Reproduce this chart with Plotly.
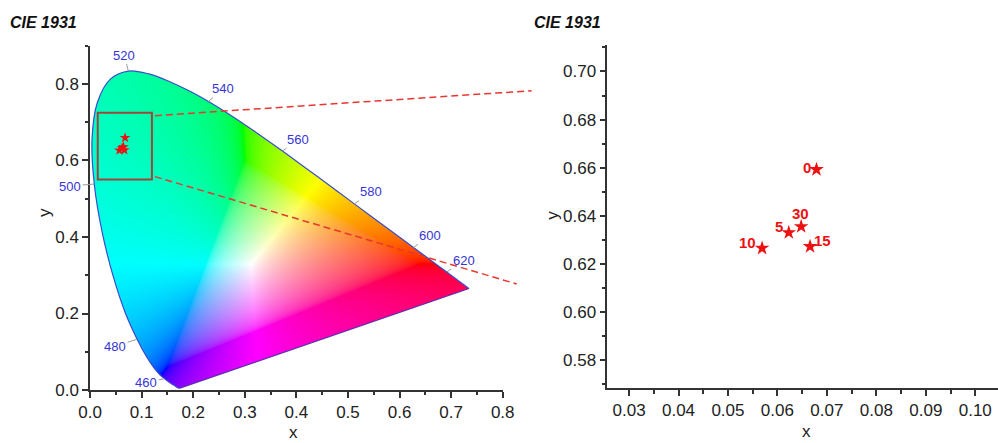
import numpy as np
import zlib, struct, base64
import plotly.graph_objects as go

# ---------------- data ----------------
# CIE 1931 2-degree spectral locus (nm, x, y)
wavelengths = list(range(380, 705, 5))
locus_x = [0.1741, 0.1740, 0.1738, 0.1736, 0.1733, 0.1730, 0.1726, 0.1721, 0.1714, 0.1703,
           0.1689, 0.1669, 0.1644, 0.1611, 0.1566, 0.1510, 0.1440, 0.1355, 0.1241, 0.1096,
           0.0913, 0.0687, 0.0454, 0.0235, 0.0082, 0.0039, 0.0139, 0.0389, 0.0743, 0.1142,
           0.1547, 0.1929, 0.2296, 0.2658, 0.3016, 0.3373, 0.3731, 0.4087, 0.4441, 0.4788,
           0.5125, 0.5448, 0.5752, 0.6029, 0.6270, 0.6482, 0.6658, 0.6801, 0.6915, 0.7006,
           0.7079, 0.7140, 0.7190, 0.7230, 0.7260, 0.7283, 0.7300, 0.7311, 0.7320, 0.7327,
           0.7334, 0.7340, 0.7344, 0.7346, 0.7347]
locus_y = [0.0050, 0.0050, 0.0049, 0.0049, 0.0048, 0.0048, 0.0048, 0.0048, 0.0051, 0.0058,
           0.0069, 0.0086, 0.0109, 0.0138, 0.0177, 0.0227, 0.0297, 0.0399, 0.0578, 0.0868,
           0.1327, 0.2007, 0.2950, 0.4127, 0.5384, 0.6548, 0.7502, 0.8120, 0.8338, 0.8262,
           0.8059, 0.7816, 0.7543, 0.7243, 0.6923, 0.6589, 0.6245, 0.5896, 0.5547, 0.5202,
           0.4866, 0.4544, 0.4242, 0.3965, 0.3725, 0.3514, 0.3340, 0.3197, 0.3083, 0.2993,
           0.2920, 0.2859, 0.2809, 0.2770, 0.2740, 0.2717, 0.2700, 0.2689, 0.2680, 0.2673,
           0.2666, 0.2660, 0.2656, 0.2654, 0.2653]

label_wavelengths = [460, 480, 500, 520, 540, 560, 580, 600, 620]
# label offsets in pixels (dx, dy) from the locus point
label_dx = [-18, -22, -24, -4, 15, 16, 17, 17, 17]
label_dy = [4, 7, 2, -16, -13, -12, -12, -12, -12]

# measured samples
sample_labels = ["0", "5", "10", "15", "30"]
sample_x = [0.0679, 0.0623, 0.0569, 0.0666, 0.0648]
sample_y = [0.6593, 0.6331, 0.6266, 0.6273, 0.6356]
# label offsets (pixels) from each star
sample_lbl_dx = [-9, -10, -15, 12, -1]
sample_lbl_dy = [-2, -6, -6, -6, -13]

# zoom window shown on the left diagram
zoom_x = [0.015, 0.12]
zoom_y = [0.55, 0.725]

# ---------------- colour fill image (rendering only) ----------------
def catmull_rom_closed(xs_, ys_, sub=8):
    p = np.column_stack([xs_, ys_])
    m = len(p)
    out = []
    for i in range(m):
        p0, p1, p2, p3 = p[(i - 1) % m], p[i], p[(i + 1) % m], p[(i + 2) % m]
        for t in np.linspace(0, 1, sub, endpoint=False):
            t2, t3 = t * t, t * t * t
            out.append(0.5 * ((2 * p1) + (-p0 + p2) * t + (2 * p0 - 5 * p1 + 4 * p2 - p3) * t2
                              + (-p0 + 3 * p1 - 3 * p2 + p3) * t3))
    out = np.array(out)
    return out[:, 0], out[:, 1]


res = 0.001
img_x0, img_x1 = 0.0, 0.74
img_y0, img_y1 = 0.0, 0.84
nx = int(round((img_x1 - img_x0) / res))
ny = int(round((img_y1 - img_y0) / res))
gx = img_x0 + (np.arange(nx) + 0.5) * res
gy = img_y1 - (np.arange(ny) + 0.5) * res
X, Y = np.meshgrid(gx, gy)

px, py = catmull_rom_closed(np.array(locus_x), np.array(locus_y))
inside = np.zeros(X.shape, dtype=bool)
n = len(px)
with np.errstate(divide="ignore", invalid="ignore"):
    for j in range(n):
        xi, yi = px[j], py[j]
        xj, yj = px[j - 1], py[j - 1]
        if yi == yj:
            continue
        cond = ((yi > Y) != (yj > Y)) & (X < (xj - xi) * (Y - yi) / (yj - yi) + xi)
        inside ^= cond

yy = np.maximum(Y, 1e-4)
Xc = X / yy
Yc = np.ones_like(X)
Zc = (1 - X - Y) / yy
R = 3.2406 * Xc - 1.5372 * Yc - 0.4986 * Zc
G = -0.9689 * Xc + 1.8758 * Yc + 0.0415 * Zc
B = 0.0557 * Xc - 0.2040 * Yc + 1.0570 * Zc
rgb = np.stack([R, G, B], axis=-1)
mn = rgb.min(axis=-1, keepdims=True)
rgb = rgb - np.minimum(mn, 0)          # desaturate out-of-gamut colours
mx = rgb.max(axis=-1, keepdims=True)
mx[mx == 0] = 1
rgb = np.clip(rgb / mx, 0, 1)
rgb = np.where(rgb <= 0.0031308, 12.92 * rgb, 1.055 * np.power(rgb, 1 / 2.4) - 0.055)
rgba = np.zeros((ny, nx, 4), dtype=np.uint8)
rgba[..., :3] = np.clip(rgb * 255, 0, 255).astype(np.uint8)
rgba[..., 3] = np.where(inside, 255, 0).astype(np.uint8)


def to_png(arr):
    h, w, _ = arr.shape
    raw = b"".join(b"\x00" + arr[r].tobytes() for r in range(h))

    def chunk(tag, data):
        c = struct.pack(">I", len(data)) + tag + data
        return c + struct.pack(">I", zlib.crc32(tag + data) & 0xFFFFFFFF)

    return (b"\x89PNG\r\n\x1a\n"
            + chunk(b"IHDR", struct.pack(">IIBBBBB", w, h, 8, 6, 0, 0, 0))
            + chunk(b"IDAT", zlib.compress(raw, 9))
            + chunk(b"IEND", b""))


png_uri = "data:image/png;base64," + base64.b64encode(to_png(rgba)).decode()

# ---------------- figure ----------------
W, H = 998, 443
dom_x1 = [0.0902, 0.5037]
dom_y1 = [0.1196, 0.8968]
dom_x2 = [0.6085, 1.0]
dom_y2 = [0.1235, 0.8984]
rng_x1 = [0, 0.8]
rng_y1 = [0, 0.9]
rng_x2 = [0.0256, 0.1046]
rng_y2 = [0.5684, 0.711]

FONT = "Arial, Liberation Sans, sans-serif"
fig = go.Figure()

# locus outline: spectral curve (smooth) + purple line
fig.add_trace(go.Scatter(
    x=locus_x, y=locus_y, mode="lines", line=dict(color="#3a4ccc", width=1.2, shape="spline", smoothing=1),
    hoverinfo="skip", showlegend=False, xaxis="x", yaxis="y"))
fig.add_trace(go.Scatter(
    x=[locus_x[-1], locus_x[0]], y=[locus_y[-1], locus_y[0]], mode="lines",
    line=dict(color="#5a30b0", width=1.2),
    hoverinfo="skip", showlegend=False, xaxis="x", yaxis="y"))

# samples on full diagram
fig.add_trace(go.Scatter(
    x=sample_x, y=sample_y, mode="markers",
    marker=dict(symbol="star", size=8, color="#ee1111", line=dict(width=0)),
    showlegend=False, xaxis="x", yaxis="y"))

# samples on zoomed diagram
fig.add_trace(go.Scatter(
    x=sample_x, y=sample_y, mode="markers",
    marker=dict(symbol="star", size=11, color="#ee1111", line=dict(width=0)),
    showlegend=False, xaxis="x2", yaxis="y2"))

for lbl, sx, sy, dx, dy in zip(sample_labels, sample_x, sample_y, sample_lbl_dx, sample_lbl_dy):
    fig.add_annotation(x=sx, y=sy, xref="x2", yref="y2", text="<b>%s</b>" % lbl, showarrow=False,
                       xshift=dx, yshift=-dy,
                       font=dict(family=FONT, size=15, color="#ee1111"))

axis_common = dict(
    showline=True, linecolor="#333333", linewidth=1.5, mirror=False,
    ticks="outside", ticklen=6, tickwidth=1.5, tickcolor="#333333",
    showgrid=False, zeroline=False, automargin=False,
    tickfont=dict(family=FONT, size=17, color="#222222"),
)
minor_common = dict(ticks="outside", ticklen=3.5, tickwidth=1.5, tickcolor="#333333", showgrid=False)

fig.update_layout(
    width=W, height=H, margin=dict(l=0, r=0, t=0, b=0, autoexpand=False),
    paper_bgcolor="white", plot_bgcolor="white",
    xaxis=dict(domain=dom_x1, range=rng_x1, anchor="y", dtick=0.1, tick0=0, tickformat=".1f",
               minor=dict(dtick=0.05, **minor_common), **axis_common),
    yaxis=dict(domain=dom_y1, range=rng_y1, anchor="x", dtick=0.2, tick0=0, tickformat=".1f",
               minor=dict(dtick=0.1, **minor_common), **axis_common),
    xaxis2=dict(domain=dom_x2, range=rng_x2, anchor="y2", dtick=0.01, tick0=0, tickformat=".2f",
                minor=dict(dtick=0.005, **minor_common), **axis_common),
    yaxis2=dict(domain=dom_y2, range=rng_y2, anchor="x2", dtick=0.02, tick0=0, tickformat=".2f",
                minor=dict(dtick=0.01, **minor_common), **axis_common),
)

fig.add_layout_image(dict(
    source=png_uri, xref="x", yref="y", x=img_x0, y=img_y1,
    sizex=img_x1 - img_x0, sizey=img_y1 - img_y0,
    xanchor="left", yanchor="top", sizing="stretch", layer="below"))

# zoom rectangle
fig.add_shape(type="rect", xref="x", yref="y",
              x0=zoom_x[0], x1=zoom_x[1], y0=zoom_y[0], y1=zoom_y[1],
              line=dict(color="#a0453a", width=2), fillcolor="rgba(0,0,0,0)")


def to_paper_x(v):
    return dom_x1[0] + (v - rng_x1[0]) / (rng_x1[1] - rng_x1[0]) * (dom_x1[1] - dom_x1[0])


def to_paper_y(v):
    return dom_y1[0] + (v - rng_y1[0]) / (rng_y1[1] - rng_y1[0]) * (dom_y1[1] - dom_y1[0])


conn_end_upper = (531.7 / W, 1 - 90.7 / H)
conn_end_lower = (516.7 / W, 1 - 284.0 / H)
for (yv, end, sgn) in [(zoom_y[1], conn_end_upper, -1), (zoom_y[0], conn_end_lower, 1)]:
    fig.add_shape(type="line", xref="paper", yref="paper",
                  x0=to_paper_x(zoom_x[1]) + 3 / W, y0=to_paper_y(yv) + sgn * 3 / H,
                  x1=end[0], y1=end[1],
                  line=dict(color="#e8372f", width=1.5, dash="7px,4px"))

# wavelength labels
for wl, dx, dy in zip(label_wavelengths, label_dx, label_dy):
    i = wavelengths.index(wl)
    fig.add_annotation(x=locus_x[i], y=locus_y[i], xref="x", yref="y",
                       text=str(wl), showarrow=True, arrowhead=0, arrowwidth=1,
                       arrowcolor="#9a9a9a", ax=dx, ay=dy, standoff=0,
                       font=dict(family=FONT, size=13, color="#3535d5"))

# titles and axis labels
for xp in [8 / W, 532 / W]:
    fig.add_annotation(x=xp, y=1 - 22 / H, xref="paper", yref="paper",
                       text="<b><i>CIE 1931</i></b>", showarrow=False,
                       xanchor="left", yanchor="middle",
                       font=dict(family=FONT, size=16, color="#111111"))

for (xp, yp) in [(293 / W, 1 - 432 / H), (806.7 / W, 1 - 431 / H)]:
    fig.add_annotation(x=xp, y=yp, xref="paper", yref="paper", text="x", showarrow=False,
                       xanchor="center", yanchor="middle",
                       font=dict(family=FONT, size=17, color="#222222"))
for (xp, yp) in [(45 / W, 1 - 213 / H), (551.7 / W, 1 - 215 / H)]:
    fig.add_annotation(x=xp, y=yp, xref="paper", yref="paper", text="y", showarrow=False,
                       textangle=-90, xanchor="center", yanchor="middle",
                       font=dict(family=FONT, size=17, color="#222222"))

fig.write_html("out.html")
